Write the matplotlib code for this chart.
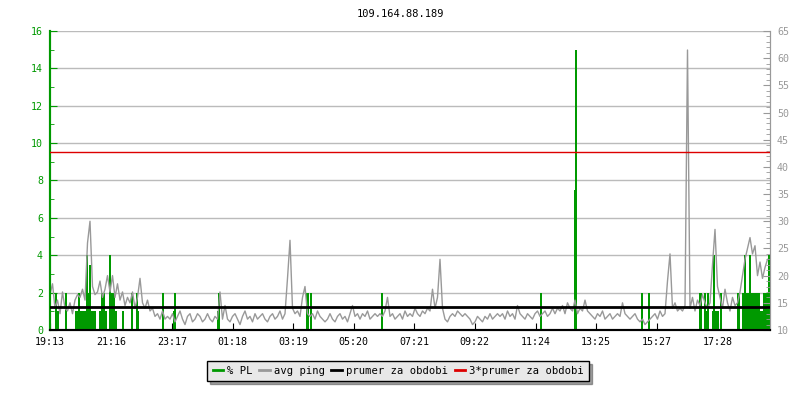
import matplotlib
matplotlib.use("Agg")
import matplotlib.pyplot as plt
import numpy as np

# casova osa: minuty od 19:13, jeden bod ping po 5 minutach
title = "109.164.88.189"
tick_labels = ["19:13", "21:16", "23:17", "01:18", "03:19", "05:20",
               "07:21", "09:22", "11:24", "13:25", "15:27", "17:28"]
step_min = 5

# prumerny ping (ms), po hodinach
avg_ping = [
    16.5, 18.5, 14, 15.5, 13, 17, 14, 13.5, 15, 13, 15.5, 16.5,
    16, 17.5, 15.5, 26, 30, 18, 16.5, 17, 19, 16, 17.5, 20,
    17, 20, 16, 18.5, 15.5, 17, 14.5, 16, 15, 17, 14, 16,
    19.5, 15, 14, 15.5, 13.5, 14, 12.5, 13, 12, 13.5, 12, 12.5,
    12, 13, 11.5, 12.5, 13.5, 12, 11, 12.5, 13, 11.5, 12, 13,
    12.5, 11.5, 12, 13, 12, 11.5, 12.5, 12, 17, 12, 14.5, 12,
    11.5, 12.5, 13, 12, 11, 12.5, 13.5, 12, 12.5, 11.5, 13, 12,
    12.5, 13, 12, 11.5, 12.5, 13, 12, 12.5, 13.5, 12, 13, 19.5,
    26.5, 14, 13, 13.5, 12.5, 16, 18, 13, 12.5, 13, 12, 13.5,
    12.5, 12, 11.5, 12, 13, 12, 11.5, 12.5, 13, 12, 12.5, 11.5,
    13, 14.5, 12.5, 13, 12, 13, 12.5, 13.5, 12, 12.5, 13, 12.5,
    13, 12.5, 13.5, 16, 12.5, 13, 12, 12.5, 13, 12, 13.5, 12.5,
    13, 12.5, 14, 13, 12.5, 13.5, 13, 14, 13.5, 17.5, 14, 16,
    23, 14, 12, 11.5, 12.5, 13, 12.5, 13.5, 13, 12.5, 13, 12.5,
    12, 11, 11.5, 12.5, 12, 11.5, 12.5, 12, 13, 12, 12.5, 13,
    12.5, 13, 12, 13.5, 12.5, 13, 12, 14.5, 13, 12.5, 12, 13,
    12.5, 12, 13, 13.5, 12.5, 13, 13.5, 12.5, 13, 14, 13, 14,
    13.5, 14.5, 13, 15, 14, 13.5, 15.5, 13, 14, 13.5, 15.5, 13.5,
    13, 12.5, 12, 13, 12.5, 13.5, 12, 12.5, 13, 12, 12.5, 13,
    12.5, 15, 13, 12.5, 12, 12.5, 13, 12, 11.5, 12, 11, 11.5,
    12, 12.5, 13, 12, 13.5, 12.5, 13, 19, 24, 14, 15, 13.5,
    14, 13.5, 14.5, 61.5, 14, 16, 13.5, 15.5, 14.5, 16.5, 15, 14,
    15, 22, 28.5, 18, 16, 14, 17.5, 15, 13.5, 16, 14.5, 15,
    17, 20, 23, 25, 27, 24, 25.5, 20, 22.5, 19.5, 21.5, 23,
]

# ztrata paketu (%), jen nenulove intervaly (minuta od 19:13)
pl_min = [12, 14, 16, 32, 52, 54, 58, 60, 62, 64, 66, 68, 70, 72, 74, 76, 78,
          80, 82, 84, 86, 88, 90, 100, 102, 104, 106, 108, 110, 112, 120, 124,
          126, 128, 130, 132, 146, 164, 174, 176, 226, 248, 250, 336, 338, 514,
          516, 522, 664, 982, 1050, 1052, 1184, 1198, 1300, 1302, 1310, 1312,
          1316, 1326, 1328, 1330, 1332, 1336, 1342, 1376, 1378, 1386, 1390,
          1392, 1396, 1398, 1400, 1402, 1404, 1408, 1410, 1412, 1414, 1416,
          1418, 1420, 1424, 1426, 1428, 1430, 1432, 1434, 1436, 1438]
pl_val = [2, 1, 1, 2, 1, 1, 2, 1, 1, 1, 1, 1, 1, 1, 4, 1, 2,
          3.5, 1, 1, 1, 1, 1, 1, 1, 2, 1, 2, 1, 1, 4, 2,
          1, 2, 1, 1, 1, 2, 2, 1, 2, 1, 2, 1, 2, 2,
          2, 2, 2, 2, 7.5, 15, 2, 2, 2, 2, 2, 1,
          2, 1, 4, 1, 1, 1, 2, 2, 2, 2, 4,
          2, 2, 2, 4, 2, 2, 2, 2, 2, 2, 2,
          2, 1, 1, 1, 2, 2, 1, 2, 1, 4]

prumer = 14.27   # prumer za obdobi (ms)

green = "#009900"
grey = "#999999"
font = "DejaVu Sans Mono"
plt.rcParams["font.family"] = font
plt.rcParams["font.size"] = 7.2


def minutes_from_start(label, start="19:13"):
    h, m = map(int, label.split(":"))
    h0, m0 = map(int, start.split(":"))
    return ((h * 60 + m) - (h0 * 60 + m0)) % 1440


fig = plt.figure(figsize=(8, 4), dpi=100)
ax = fig.add_axes([0.0625, 0.175, 0.9, 0.7475])
ax2 = ax.twinx()

t = np.arange(len(avg_ping)) * step_min

ax.bar(pl_min, pl_val, width=2.2, color=green, align="center", linewidth=0,
       antialiased=False, zorder=3)
ax2.plot(t, avg_ping, color=grey, lw=1, zorder=2)
ax2.axhline(prumer, color="black", lw=2, zorder=4)
ax2.axhline(3 * prumer, color="#dd0000", lw=1, zorder=4)

ax.set_xlim(0, 1440)
ax.set_ylim(0, 16)
ax2.set_ylim(10, 65)

ax.set_yticks(np.arange(0, 17, 2))
ax.set_yticks(np.arange(0, 17, 1), minor=True)
ax2.set_yticks(np.arange(10, 66, 5))
ax2.set_yticks(np.arange(10, 66, 1), minor=True)
ax.set_xticks([minutes_from_start(l) for l in tick_labels])
ax.set_xticklabels(tick_labels)

ax.grid(axis="y", color="#bbbbbb", lw=1)
ax.set_axisbelow(True)

ax.tick_params(axis="y", which="major", direction="in", length=5, color=green,
               labelcolor=green, pad=5)
ax.tick_params(axis="y", which="minor", direction="in", length=3, color=green)
ax2.tick_params(axis="y", which="major", direction="in", length=5, color=grey,
                labelcolor=grey, pad=5)
ax2.tick_params(axis="y", which="minor", direction="in", length=3, color=grey)
ax.tick_params(axis="x", direction="in", length=5, color="black", pad=5)

for a in (ax, ax2):
    a.spines["top"].set_visible(False)
    a.spines["left"].set_color(green)
    a.spines["left"].set_linewidth(1.5)
    a.spines["right"].set_color(grey)
    a.spines["bottom"].set_color("black")
    a.spines["bottom"].set_linewidth(1.5)

fig.text(0.5, 0.965, title, ha="center", va="center", fontsize=7.5)

handles = [plt.Line2D([], [], color=c, lw=2) for c in (green, grey, "black", "#dd0000")]
labels = ["% PL", "avg ping", "prumer za obdobi", "3*prumer za obdobi"]
leg = fig.legend(handles, labels, loc="center", bbox_to_anchor=(0.498, 0.0725),
                 ncol=4, frameon=True, fancybox=False, shadow=True,
                 handlelength=1.0, handletextpad=0.4, columnspacing=0.6,
                 borderpad=0.5, fontsize=7.6)
leg.get_frame().set_facecolor("#e8e8e8")
leg.get_frame().set_edgecolor("black")
leg.get_frame().set_alpha(1)

plt.savefig("out.png", dpi=100)
